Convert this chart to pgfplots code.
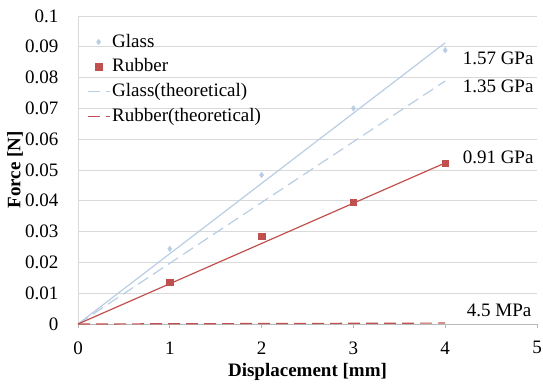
\documentclass[border=0pt]{standalone}
\usepackage{pgfplots}
\pgfplotsset{compat=1.18}
\usepackage{fontspec}
\setmainfont{Liberation Serif}
\definecolor{glassblue}{HTML}{B9CDE5}
\definecolor{rubberred}{HTML}{C0504D}
\definecolor{gridc}{HTML}{D9D9D9}
\newcommand{\ff}{\fontsize{19bp}{22bp}\selectfont}
\pgfplotsset{
  legend image code/.code={
    \draw[mark repeat=2,mark phase=2,#1] plot coordinates {(0bp,0bp) (11bp,0bp) (22bp,0bp)};
  }
}
\begin{document}
\ff
\begin{tikzpicture}
\begin{axis}[
  name=ax,
  set layers=standard,
  scale only axis,
  width=459bp, height=308bp,
  xmin=0, xmax=5, ymin=0, ymax=0.1,
  xtick={0,1,2,3,4,5},
  ytick={0,0.01,0.02,0.03,0.04,0.05,0.06,0.07,0.08,0.09,0.1},
  yticklabels={0,0.01,0.02,0.03,0.04,0.05,0.06,0.07,0.08,0.09,0.1},
  /pgf/number format/assume math mode=true,
  ymajorgrids,
  grid style={gridc, line width=0.9pt},
  axis x line*=bottom,
  axis y line*=left,
  axis line style={gridc, line width=0.9pt, -},
  x axis line style={gray!55},
  tick style={gray!55, line width=0.9pt},
  xtick align=outside,
  ytick style={draw=none},
  major tick length=4bp,
  tick label style={font=\ff},
  yticklabel style={xshift=-13bp},
  xticklabel style={yshift=-7bp},
  every axis x label/.style={at={(rel axis cs:0.5,-0.156)}, anchor=center},
  every axis y label/.style={at={(rel axis cs:-0.137,0.5)}, rotate=90, anchor=center},
  xlabel={\textbf{Displacement [mm]}},
  ylabel={\textbf{Force [N]}},
  label style={font=\ff},
  legend style={draw=none, fill=none, at={(0.017,0.952)}, anchor=north west,
    font=\ff, row sep=4.7bp, inner sep=1bp},
  legend cell align=left,
  clip=false,
]
\addplot[only marks, mark=diamond*, mark size=2.8bp, color=glassblue]
  coordinates {(1,0.0244) (2,0.0484) (3,0.0700) (4,0.0889)};
\addlegendentry{Glass}
\addplot[only marks, mark=square*, mark size=3.2bp, color=rubberred]
  coordinates {(1,0.0136) (2,0.0286) (3,0.0396) (4,0.0522)};
\addlegendentry{Rubber}
\addplot[color=glassblue, line width=1.2pt, dash pattern=on 12bp off 6bp]
  coordinates {(0,0) (4,0.0789)};
\addlegendentry{Glass(theoretical)}
\addplot[color=rubberred, line width=1.2pt, dash pattern=on 12bp off 6bp, on layer=axis foreground]
  coordinates {(0,0) (4,0.0003)};
\addlegendentry{Rubber(theoretical)}
\addplot[color=glassblue, line width=1.2pt, forget plot]
  coordinates {(0,0) (4,0.0913)};
\addplot[color=rubberred, line width=1.2pt, forget plot]
  coordinates {(0,0) (4,0.0523)};
\node[anchor=west] at (axis cs:4.12,0.0862) {1.57 GPa};
\node[anchor=west] at (axis cs:4.12,0.0772) {1.35 GPa};
\node[anchor=west] at (axis cs:4.12,0.0540) {0.91 GPa};
\node[anchor=west] at (axis cs:4.165,0.0045) {4.5 MPa};
\end{axis}
\pgfresetboundingbox
\useasboundingbox ([xshift=-78bp,yshift=-59bp]ax.south west) rectangle ([xshift=6bp,yshift=16bp]ax.north east);
\end{tikzpicture}
\end{document}
